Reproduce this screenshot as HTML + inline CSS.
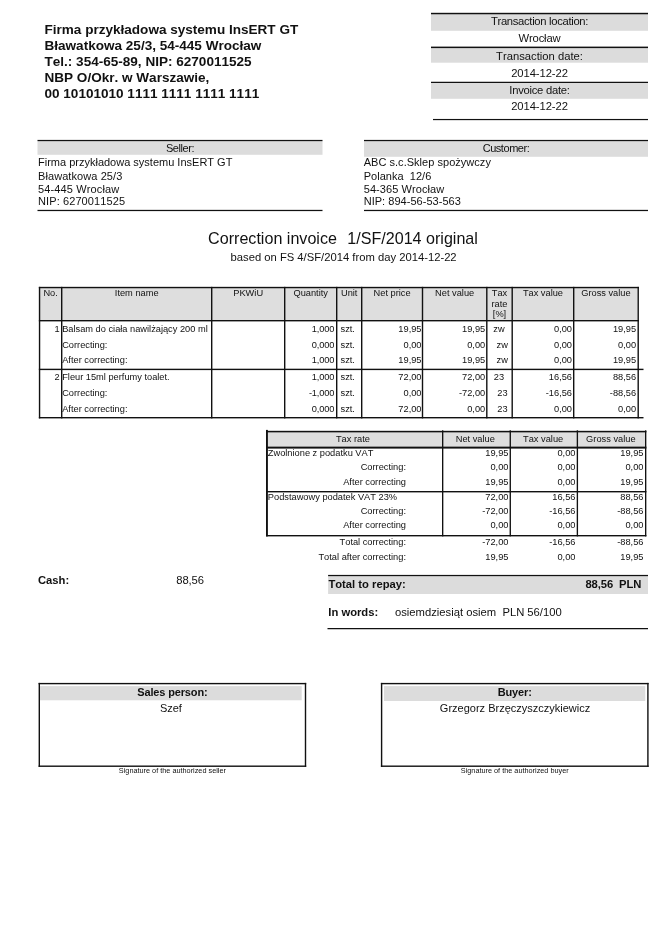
<!DOCTYPE html>
<html><head><meta charset="utf-8"><title>Correction invoice</title>
<style>
html,body{margin:0;padding:0;background:#fff;}
body{font-kerning:none;width:669px;height:949px;position:relative;overflow:hidden;font-family:"Liberation Sans",sans-serif;color:#111;}
#pg{position:absolute;left:0;top:0;width:669px;height:949px;will-change:transform;}
.a{position:absolute;white-space:pre;line-height:1;}
.hl,.vl,.g{position:absolute;}
.b{font-weight:bold;}
.c{text-align:center;}
.r{text-align:right;}
.hd{font-size:13.55px;font-weight:bold;}
.t12{font-size:11.24px;}
.t11{font-size:11px;}
.m{font-size:9.25px;}
.s{font-size:9.28px;}
</style></head><body><div id="pg">
<svg width="669" height="949" viewBox="0 0 669 949" style="position:absolute;left:0;top:0">
<rect x="431" y="14.3" width="217" height="16.5" fill="#dcdcdc"/>
<rect x="431" y="48" width="217" height="14.7" fill="#dcdcdc"/>
<rect x="431" y="82.9" width="217" height="15.9" fill="#dcdcdc"/>
<rect x="37.5" y="141" width="285.0" height="13.8" fill="#dcdcdc"/>
<rect x="364" y="141" width="284" height="15.8" fill="#dcdcdc"/>
<rect x="38.85" y="286.85" width="598.65" height="33.15" fill="#dedede"/>
<rect x="266" y="430.3" width="379" height="16.3" fill="#dedede"/>
<rect x="328.1" y="575.9" width="319.9" height="18.1" fill="#dcdcdc"/>
<rect x="40" y="686.1" width="261.7" height="14.2" fill="#dcdcdc"/>
<rect x="384" y="686.1" width="261.3" height="14.9" fill="#dcdcdc"/>
<rect x="431" y="12.8" width="217" height="1.5" fill="#111"/>
<rect x="431" y="46.6" width="217" height="1.5" fill="#111"/>
<rect x="431" y="81.75" width="217" height="1.25" fill="#111"/>
<rect x="433" y="118.95" width="215" height="1.2" fill="#111"/>
<rect x="37.5" y="139.9" width="285.0" height="1.25" fill="#111"/>
<rect x="37.5" y="209.85" width="285.0" height="1.25" fill="#111"/>
<rect x="364" y="139.9" width="284" height="1.25" fill="#111"/>
<rect x="364" y="209.85" width="284" height="1.25" fill="#111"/>
<rect x="38.85" y="286.85" width="600.05" height="1.4" fill="#111"/>
<rect x="38.85" y="320" width="600.05" height="1.4" fill="#111"/>
<rect x="38.85" y="368.7" width="604.65" height="1.4" fill="#111"/>
<rect x="38.85" y="417" width="604.65" height="1.4" fill="#111"/>
<rect x="38.85" y="286.85" width="1.4" height="131.55" fill="#111"/>
<rect x="61" y="286.85" width="1.4" height="131.55" fill="#111"/>
<rect x="211" y="286.85" width="1.4" height="131.55" fill="#111"/>
<rect x="284" y="286.85" width="1.4" height="131.55" fill="#111"/>
<rect x="336" y="286.85" width="1.4" height="131.55" fill="#111"/>
<rect x="361" y="286.85" width="1.4" height="131.55" fill="#111"/>
<rect x="421.8" y="286.85" width="1.4" height="131.55" fill="#111"/>
<rect x="486.1" y="286.85" width="1.4" height="131.55" fill="#111"/>
<rect x="511.5" y="286.85" width="1.4" height="131.55" fill="#111"/>
<rect x="573" y="286.85" width="1.4" height="131.55" fill="#111"/>
<rect x="637.5" y="286.85" width="1.4" height="131.55" fill="#111"/>
<rect x="266" y="430.9" width="380.4" height="1.45" fill="#111"/>
<rect x="266" y="446.6" width="380.4" height="2.0" fill="#111"/>
<rect x="266" y="491.0" width="380.4" height="1.4" fill="#111"/>
<rect x="266" y="535" width="380.4" height="1.4" fill="#111"/>
<rect x="266" y="429.9" width="1.9" height="106.5" fill="#111"/>
<rect x="442" y="430.3" width="1.35" height="106.1" fill="#111"/>
<rect x="509.6" y="430.3" width="1.35" height="106.1" fill="#111"/>
<rect x="576.7" y="430.3" width="1.35" height="106.1" fill="#111"/>
<rect x="645" y="430.3" width="1.35" height="106.1" fill="#111"/>
<rect x="328.1" y="574.9" width="319.9" height="1.25" fill="#111"/>
<rect x="327.5" y="628" width="320.5" height="1.25" fill="#111"/>
<rect x="38.6" y="682.9" width="267.6" height="1.4" fill="#111"/>
<rect x="38.6" y="765.5" width="267.6" height="1.4" fill="#111"/>
<rect x="38.6" y="682.9" width="1.4" height="84.0" fill="#111"/>
<rect x="304.8" y="682.9" width="1.4" height="84.0" fill="#111"/>
<rect x="380.9" y="682.9" width="267.7" height="1.4" fill="#111"/>
<rect x="380.9" y="765.5" width="267.7" height="1.4" fill="#111"/>
<rect x="380.9" y="682.9" width="1.4" height="84.0" fill="#111"/>
<rect x="647.2" y="682.9" width="1.4" height="84.0" fill="#111"/>
</svg>
<div class="a hd" style="left:44.5px;top:23.1px;">Firma przykładowa systemu InsERT GT</div>
<div class="a hd" style="left:44.5px;top:39.3px;">Bławatkowa 25/3, 54-445 Wrocław</div>
<div class="a hd" style="left:44.5px;top:55.3px;">Tel.: 354-65-89, NIP: 6270011525</div>
<div class="a hd" style="left:44.5px;top:70.9px;">NBP O/Okr. w Warszawie,</div>
<div class="a hd" style="left:44.5px;top:87.2px;">00 10101010 1111 1111 1111 1111</div>
<div class="a c t12" style="left:431px;top:15.5px;width:217px;letter-spacing:-0.31px;">Transaction location:</div>
<div class="a c t12" style="left:431px;top:32.6px;width:217px;letter-spacing:-0.15px;">Wrocław</div>
<div class="a c t12" style="left:431px;top:51.4px;width:217px;">Transaction date:</div>
<div class="a c t12" style="left:431px;top:67.6px;width:217px;letter-spacing:-0.08px;">2014-12-22</div>
<div class="a c t12" style="left:431px;top:85.3px;width:217px;letter-spacing:-0.26px;">Invoice date:</div>
<div class="a c t12" style="left:431px;top:100.7px;width:217px;letter-spacing:-0.08px;">2014-12-22</div>
<div class="a c t11" style="left:37.5px;top:142.5px;width:285.0px;letter-spacing:-0.42px;">Seller:</div>
<div class="a t11" style="left:38.0px;top:157px;">Firma przykładowa systemu InsERT GT</div>
<div class="a t11" style="left:38.0px;top:170.5px;letter-spacing:0.08px;">Bławatkowa 25/3</div>
<div class="a t11" style="left:38.0px;top:183.5px;letter-spacing:0.13px;">54-445 Wrocław</div>
<div class="a t11" style="left:38.0px;top:196px;letter-spacing:0.1px;">NIP: 6270011525</div>
<div class="a c t11" style="left:364px;top:142.5px;width:284px;letter-spacing:-0.45px;">Customer:</div>
<div class="a t11" style="left:363.7px;top:157px;letter-spacing:0.03px;">ABC s.c.Sklep spożywczy</div>
<div class="a t11" style="left:363.7px;top:170.5px;letter-spacing:0.03px;">Polanka  12/6</div>
<div class="a t11" style="left:363.7px;top:183.5px;letter-spacing:0.08px;">54-365 Wrocław</div>
<div class="a t11" style="left:363.7px;top:196px;letter-spacing:0.03px;">NIP: 894-56-53-563</div>
<div class="a c" style="left:0px;top:230.1px;width:686px;font-size:16.1px;">Correction invoice <span style="margin-left:1.4px"> </span>1/SF/2014 original</div>
<div class="a c" style="left:0.6px;top:251.6px;width:686px;font-size:11.24px;">based on FS 4/SF/2014 from day 2014-12-22</div>
<div class="a c m" style="left:40.25px;top:288.5px;width:20.75px;">No.</div>
<div class="a c m" style="left:62.4px;top:288.5px;width:148.6px;">Item name</div>
<div class="a c m" style="left:212.4px;top:288.5px;width:71.6px;">PKWiU</div>
<div class="a c m" style="left:285.4px;top:288.5px;width:50.6px;">Quantity</div>
<div class="a c m" style="left:337.4px;top:288.5px;width:23.6px;">Unit</div>
<div class="a c m" style="left:362.4px;top:288.5px;width:59.4px;">Net price</div>
<div class="a c m" style="left:423.2px;top:288.5px;width:62.9px;">Net value</div>
<div class="a c m" style="left:487.5px;top:288.5px;width:24.0px;">Tax</div>
<div class="a c m" style="left:512.9px;top:288.5px;width:60.1px;">Tax value</div>
<div class="a c m" style="left:574.4px;top:288.5px;width:63.1px;">Gross value</div>
<div class="a c m" style="left:487.5px;top:299.6px;width:24.0px;">rate</div>
<div class="a c m" style="left:487.5px;top:310px;width:24.0px;">[%]</div>
<div class="a r m" style="left:-40.4px;top:324.5px;width:100px;">1</div>
<div class="a m" style="left:62.2px;top:324.5px;">Balsam do ciała nawilżający 200 ml</div>
<div class="a r m" style="left:234.39999999999998px;top:324.5px;width:100px;letter-spacing:-0.12px;">1,000</div>
<div class="a m" style="left:340.5px;top:324.5px;">szt.</div>
<div class="a r m" style="left:321.5px;top:324.5px;width:100px;">19,95</div>
<div class="a r m" style="left:385.20000000000005px;top:324.5px;width:100px;">19,95</div>
<div class="a c m" style="left:487.0px;top:324.5px;width:24.0px;">zw</div>
<div class="a r m" style="left:472px;top:324.5px;width:100px;">0,00</div>
<div class="a r m" style="left:536.1px;top:324.5px;width:100px;">19,95</div>
<div class="a m" style="left:62.2px;top:340.5px;">Correcting:</div>
<div class="a r m" style="left:234.39999999999998px;top:340.5px;width:100px;letter-spacing:-0.12px;">0,000</div>
<div class="a m" style="left:340.5px;top:340.5px;">szt.</div>
<div class="a r m" style="left:321.5px;top:340.5px;width:100px;">0,00</div>
<div class="a r m" style="left:385.20000000000005px;top:340.5px;width:100px;">0,00</div>
<div class="a c m" style="left:490.2px;top:340.5px;width:24.0px;">zw</div>
<div class="a r m" style="left:472px;top:340.5px;width:100px;">0,00</div>
<div class="a r m" style="left:536.1px;top:340.5px;width:100px;">0,00</div>
<div class="a m" style="left:62.2px;top:355.5px;">After correcting:</div>
<div class="a r m" style="left:234.39999999999998px;top:355.5px;width:100px;letter-spacing:-0.12px;">1,000</div>
<div class="a m" style="left:340.5px;top:355.5px;">szt.</div>
<div class="a r m" style="left:321.5px;top:355.5px;width:100px;">19,95</div>
<div class="a r m" style="left:385.20000000000005px;top:355.5px;width:100px;">19,95</div>
<div class="a c m" style="left:490.2px;top:355.5px;width:24.0px;">zw</div>
<div class="a r m" style="left:472px;top:355.5px;width:100px;">0,00</div>
<div class="a r m" style="left:536.1px;top:355.5px;width:100px;">19,95</div>
<div class="a r m" style="left:-40.4px;top:372.9px;width:100px;">2</div>
<div class="a m" style="left:62.2px;top:372.9px;">Fleur 15ml perfumy toalet.</div>
<div class="a r m" style="left:234.39999999999998px;top:372.9px;width:100px;letter-spacing:-0.12px;">1,000</div>
<div class="a m" style="left:340.5px;top:372.9px;">szt.</div>
<div class="a r m" style="left:321.5px;top:372.9px;width:100px;">72,00</div>
<div class="a r m" style="left:385.20000000000005px;top:372.9px;width:100px;">72,00</div>
<div class="a c m" style="left:487.0px;top:372.9px;width:24.0px;">23</div>
<div class="a r m" style="left:472px;top:372.9px;width:100px;">16,56</div>
<div class="a r m" style="left:536.1px;top:372.9px;width:100px;">88,56</div>
<div class="a m" style="left:62.2px;top:388.6px;">Correcting:</div>
<div class="a r m" style="left:234.39999999999998px;top:388.6px;width:100px;letter-spacing:-0.12px;">-1,000</div>
<div class="a m" style="left:340.5px;top:388.6px;">szt.</div>
<div class="a r m" style="left:321.5px;top:388.6px;width:100px;">0,00</div>
<div class="a r m" style="left:385.20000000000005px;top:388.6px;width:100px;">-72,00</div>
<div class="a c m" style="left:490.4px;top:388.6px;width:24.0px;">23</div>
<div class="a r m" style="left:472px;top:388.6px;width:100px;">-16,56</div>
<div class="a r m" style="left:536.1px;top:388.6px;width:100px;">-88,56</div>
<div class="a m" style="left:62.2px;top:404.6px;">After correcting:</div>
<div class="a r m" style="left:234.39999999999998px;top:404.6px;width:100px;letter-spacing:-0.12px;">0,000</div>
<div class="a m" style="left:340.5px;top:404.6px;">szt.</div>
<div class="a r m" style="left:321.5px;top:404.6px;width:100px;">72,00</div>
<div class="a r m" style="left:385.20000000000005px;top:404.6px;width:100px;">0,00</div>
<div class="a c m" style="left:490.4px;top:404.6px;width:24.0px;">23</div>
<div class="a r m" style="left:472px;top:404.6px;width:100px;">0,00</div>
<div class="a r m" style="left:536.1px;top:404.6px;width:100px;">0,00</div>
<div class="a c s" style="left:265.59999999999997px;top:434.6px;width:174.6px;">Tax rate</div>
<div class="a c s" style="left:442.2px;top:434.6px;width:66.2px;">Net value</div>
<div class="a c s" style="left:510.3px;top:434.6px;width:65.7px;">Tax value</div>
<div class="a c s" style="left:577.4px;top:434.6px;width:66.9px;">Gross value</div>
<div class="a s" style="left:267.8px;top:449.4px;">Zwolnione z podatku VAT</div>
<div class="a r s" style="left:408.5px;top:449.4px;width:100px;">19,95</div>
<div class="a r s" style="left:475.5px;top:449.4px;width:100px;">0,00</div>
<div class="a r s" style="left:543.5px;top:449.4px;width:100px;">19,95</div>
<div class="a r s" style="left:306px;top:462.9px;width:100px;">Correcting:</div>
<div class="a r s" style="left:408.5px;top:462.9px;width:100px;">0,00</div>
<div class="a r s" style="left:475.5px;top:462.9px;width:100px;">0,00</div>
<div class="a r s" style="left:543.5px;top:462.9px;width:100px;">0,00</div>
<div class="a r s" style="left:306px;top:477.9px;width:100px;">After correcting</div>
<div class="a r s" style="left:408.5px;top:477.9px;width:100px;">19,95</div>
<div class="a r s" style="left:475.5px;top:477.9px;width:100px;">0,00</div>
<div class="a r s" style="left:543.5px;top:477.9px;width:100px;">19,95</div>
<div class="a s" style="left:267.8px;top:493.4px;">Podstawowy podatek VAT 23%</div>
<div class="a r s" style="left:408.5px;top:493.4px;width:100px;">72,00</div>
<div class="a r s" style="left:475.5px;top:493.4px;width:100px;">16,56</div>
<div class="a r s" style="left:543.5px;top:493.4px;width:100px;">88,56</div>
<div class="a r s" style="left:306px;top:506.9px;width:100px;">Correcting:</div>
<div class="a r s" style="left:408.5px;top:506.9px;width:100px;">-72,00</div>
<div class="a r s" style="left:475.5px;top:506.9px;width:100px;">-16,56</div>
<div class="a r s" style="left:543.5px;top:506.9px;width:100px;">-88,56</div>
<div class="a r s" style="left:306px;top:520.9px;width:100px;">After correcting</div>
<div class="a r s" style="left:408.5px;top:520.9px;width:100px;">0,00</div>
<div class="a r s" style="left:475.5px;top:520.9px;width:100px;">0,00</div>
<div class="a r s" style="left:543.5px;top:520.9px;width:100px;">0,00</div>
<div class="a r s" style="left:306px;top:538.3px;width:100px;">Total correcting:</div>
<div class="a r s" style="left:408.5px;top:538.3px;width:100px;">-72,00</div>
<div class="a r s" style="left:475.5px;top:538.3px;width:100px;">-16,56</div>
<div class="a r s" style="left:543.5px;top:538.3px;width:100px;">-88,56</div>
<div class="a r s" style="left:306px;top:552.9px;width:100px;">Total after correcting:</div>
<div class="a r s" style="left:408.5px;top:552.9px;width:100px;">19,95</div>
<div class="a r s" style="left:475.5px;top:552.9px;width:100px;">0,00</div>
<div class="a r s" style="left:543.5px;top:552.9px;width:100px;">19,95</div>
<div class="a b t12" style="left:38px;top:575.4px;">Cash:</div>
<div class="a t12" style="left:176.3px;top:575.4px;letter-spacing:-0.1px;">88,56</div>
<div class="a b t12" style="left:328.4px;top:579.2px;">Total to repay:</div>
<div class="a b t12 r" style="left:500px;top:579.2px;width:141.3px;letter-spacing:-0.1px;">88,56  PLN</div>
<div class="a b t12" style="left:328.3px;top:606.9px;">In words:</div>
<div class="a t12" style="left:395px;top:606.9px;">osiemdziesiąt osiem  PLN 56/100</div>
<div class="a c b t11" style="left:38.6px;top:687px;width:267.6px;letter-spacing:-0.15px;">Sales person:</div>
<div class="a c t11" style="left:37.1px;top:702.5px;width:267.6px;">Szef</div>
<div class="a c" style="left:38.6px;top:766.8px;width:267.6px;font-size:7.3px;">Signature of the authorized seller</div>
<div class="a c b t11" style="left:380.9px;top:687px;width:267.7px;letter-spacing:-0.15px;">Buyer:</div>
<div class="a c t11" style="left:381.2px;top:702.5px;width:267.7px;">Grzegorz Brzęczyszczykiewicz</div>
<div class="a c" style="left:380.9px;top:766.8px;width:267.7px;font-size:7.3px;">Signature of the authorized buyer</div>
</div></body></html>
